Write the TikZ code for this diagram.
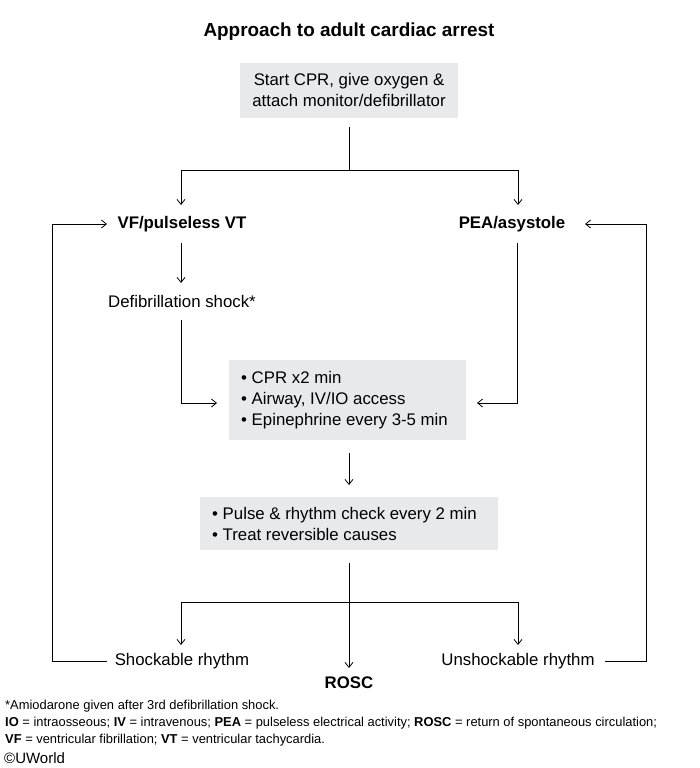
\documentclass[tikz,border=0pt]{standalone}
\usepackage{fontspec}
\setmainfont{Liberation Sans}
\usetikzlibrary{arrows.meta}
\definecolor{boxgray}{HTML}{E7E9EB}
\begin{document}
\begin{tikzpicture}[x=1pt,y=-1pt,
  box/.style={fill=boxgray,draw=none,inner sep=0pt},
  txt/.style={font=\fontsize{16.8}{21}\selectfont,inner sep=1pt},
  btxt/.style={font=\fontsize{16.8}{21}\selectfont\bfseries,inner sep=1pt},
  foot/.style={font=\fontsize{12.9}{15}\selectfont,anchor=west,inner sep=0pt},
  arr/.style={-{Straight Barb[length=5pt,width=8pt]},line width=0.8pt},
  ln/.style={line width=0.8pt}]
\useasboundingbox (0,0) rectangle (700,768);
\node[btxt,font=\fontsize{18.9}{22}\selectfont\bfseries] (title) at (349,32) {Approach to adult cardiac arrest};
\fill[boxgray] (240,63) rectangle (458,118);
\node[txt,align=center] (b1) at (349,90) {Start CPR, give oxygen \&\\attach monitor/defibrillator};
\fill[boxgray] (229,360) rectangle (466,440);
\node[txt,align=left,anchor=west] (b2) at (240,400) {• CPR x2 min\\• Airway, IV/IO access\\• Epinephrine every 3-5 min};
\fill[boxgray] (200,497) rectangle (498,550);
\node[txt,align=left,anchor=west] (b3) at (211,524) {• Pulse \& rhythm check every 2 min\\• Treat reversible causes};
\node[btxt] (vf) at (182,224) {VF/pulseless VT};
\node[btxt] (pea) at (512,224) {PEA/asystole};
\node[txt] (def) at (182,301) {Defibrillation shock*};
\node[txt] (sh) at (182,661) {Shockable rhythm};
\node[btxt] (rosc) at (349,683) {ROSC};
\node[txt] (un) at (518,661) {Unshockable rhythm};
\coordinate (c1) at (349,127);
\coordinate (c2) at (349,170);
\draw[ln] (c1) -- (c2);
\draw[arr] (c2) -| (181,205);
\draw[arr] (c2) -| (518,205);
\draw[arr] (181,243) -- (181,283);
\draw[arr] (181,320) |- (217,403);
\draw[arr] (517,243) |- (477,403);
\draw[arr] (349,453) -- (349,485);
\coordinate (c3) at (349,563);
\coordinate (c4) at (349,602);
\draw[ln] (c3) -- (c4);
\draw[arr] (c4) -| (181,645);
\draw[arr] (c4) -| (518,645);
\draw[arr] (c4) -- (349,668);
\draw[arr] (107,661) -| (52,224) -- (107,224);
\draw[arr] (605,661) -| (646,224) -- (585,224);
\node[foot] (f1) at (5,706) {*Amiodarone given after 3rd defibrillation shock.};
\node[foot] (f2) at (5,723) {\textbf{IO} = intraosseous; \textbf{IV} = intravenous; \textbf{PEA} = pulseless electrical activity; \textbf{ROSC} = return of spontaneous circulation;};
\node[foot] (f3) at (5,740) {\textbf{VF} = ventricular fibrillation; \textbf{VT} = ventricular tachycardia.};
\node[foot,font=\fontsize{15}{17}\selectfont] (f4) at (4,758) {©UWorld};
\end{tikzpicture}
\end{document}
